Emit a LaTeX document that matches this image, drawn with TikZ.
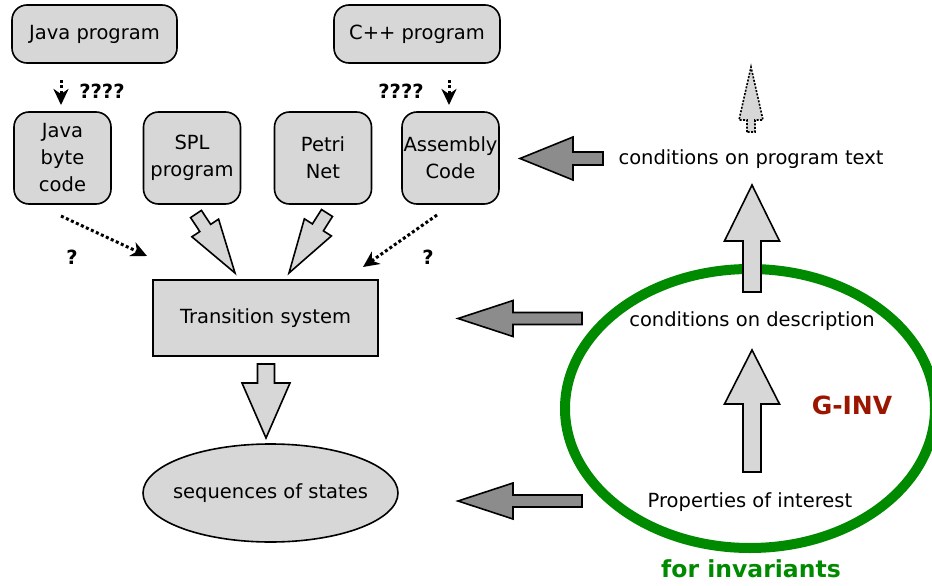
\documentclass[tikz,border=0pt]{standalone}
\usepackage{fontspec}
\setmainfont{DejaVu Sans}
\usetikzlibrary{calc,arrows.meta,shapes.geometric}

\definecolor{boxGray}{RGB}{215,215,215}
\definecolor{darkGray}{RGB}{140,140,140}
\definecolor{ringGreen}{RGB}{0,138,0}
\definecolor{invRed}{RGB}{155,22,0}

% fat arrow: style, tail, tip, half shaft, half head, head length
\newcommand{\fatArrow}[6]{%
	\coordinate (fatHead) at ($(#3)!#6!(#2)$);
	\draw[#1] ($(#2)!#4!90:(#3)$) -- ($(fatHead)!#4!90:(#3)$) -- ($(fatHead)!#5!90:(#3)$) -- (#3)
		-- ($(fatHead)!#5!-90:(#3)$) -- ($(fatHead)!#4!-90:(#3)$) -- ($(#2)!#4!-90:(#3)$) -- cycle;}

\tikzset{
	every node/.style={font=\fontsize{19.5}{27}\selectfont},
	progbox/.style={draw, fill=boxGray, line width=1.6pt, rounded corners=15pt, align=center, inner sep=1pt},
	lightArrow/.style={draw, fill=boxGray, line width=1.6pt, line join=miter},
	darkArrow/.style={draw, fill=darkGray, line width=1.6pt, line join=miter},
	dotArrow/.style={line width=3pt, dash pattern=on 3pt off 2.5pt, -{Stealth[length=16pt,width=15pt,inset=5pt]}},
	qmark/.style={font=\fontsize{19.5}{27}\selectfont\bfseries}
}

\begin{document}
\begin{tikzpicture}[x=1pt, y=-1pt]
		% Define the size of the picture
		\useasboundingbox (0,0) rectangle (932,586);
		
		% Source programs on top
		\node[progbox, minimum width=165pt, minimum height=58pt] (javaProg) at (94.5,34) {Java program};
		\node[progbox, minimum width=166pt, minimum height=58pt] (cppProg) at (417,34) {C++ program};
		
		% Second row of boxes
		\begin{scope}[every node/.append style={progbox, minimum width=97pt, minimum height=92pt}]
			\node (byteCode) at (62.5,158) {Java\\byte\\code};
			\node (splProg) at (192,158) {SPL\\program};
			\node (petriNet) at (323,158) {Petri\\Net};
			\node (asmCode) at (450.5,158) {Assembly\\Code};
		\end{scope}
		
		% Transition system and its runs
		\node[draw, fill=boxGray, line width=1.6pt, minimum width=225pt, minimum height=76pt] (transSys) at (265.5,318) {Transition system};
		\node[ellipse, draw, fill=boxGray, line width=1.6pt, minimum width=255pt, minimum height=98pt, inner xsep=-8pt, inner ysep=0pt] (stateSeq) at (270.5,493) {sequences of states};
		
		% Right side texts
		\node (progCond) at (751,159) {conditions on program text};
		\node (descCond) at (752,321) {conditions on description};
		\node (propInt) at (750,502) {Properties of interest};
		
		% Green ring for invariants
		\draw[ringGreen, line width=10pt] (750,408.5) ellipse (185pt and 139.5pt);
		\node[text=invRed, font=\fontsize{25}{30}\selectfont\bfseries] (gInv) at (852,405) {G-INV};
		\node[text=ringGreen, font=\fontsize{23.5}{28}\selectfont\bfseries] (forInv) at (751,569) {for invariants};
		
		% Dotted translations
		\begin{scope}
			\coordinate (javaOut) at (61,80);
			\coordinate (byteIn) at (61,105);
			\coordinate (cppOut) at (449,80);
			\coordinate (asmIn) at (449,105);
			\coordinate (byteOut) at (61,216);
			\coordinate (transLeft) at (147,256);
			\coordinate (asmOut) at (437,215);
			\coordinate (transRight) at (363,267);
			
			\draw[dotArrow] (javaOut) -- (byteIn);
			\draw[dotArrow] (cppOut) -- (asmIn);
			\draw[dotArrow] (byteOut) -- (transLeft);
			\draw[dotArrow] (asmOut) -- (transRight);
			
			\node[qmark] (javaQ) at (102,91) {????};
			\node[qmark] (cppQ) at (401,91) {????};
			\node[qmark] (byteQ) at (72,257) {?};
			\node[qmark] (asmQ) at (428,257) {?};
		\end{scope}
		
		% Fat arrows into and out of the transition system
		\begin{scope}
			\coordinate (splTail) at (196,214);
			\coordinate (splTip) at (235,273);
			\coordinate (petriTail) at (327,213);
			\coordinate (petriTip) at (289,273);
			\coordinate (transTail) at (266,364);
			\coordinate (transTip) at (266,438);
			
			\fatArrow{lightArrow}{splTail}{splTip}{6.5pt}{16pt}{54pt}
			\fatArrow{lightArrow}{petriTail}{petriTip}{6.5pt}{16pt}{54pt}
			\fatArrow{lightArrow}{transTail}{transTip}{8.5pt}{24pt}{55pt}
		\end{scope}
		
		% Dark arrows pointing left
		\begin{scope}
			\coordinate (progTail) at (603,158.5);
			\coordinate (progTip) at (520,158.5);
			\coordinate (descTail) at (582,318.5);
			\coordinate (descTip) at (458,318.5);
			\coordinate (propTail) at (582,501);
			\coordinate (propTip) at (458,501);
			
			\fatArrow{darkArrow}{progTail}{progTip}{6.5pt}{21.5pt}{53pt}
			\fatArrow{darkArrow}{descTail}{descTip}{6pt}{18pt}{55pt}
			\fatArrow{darkArrow}{propTail}{propTip}{6pt}{18pt}{55pt}
		\end{scope}
		
		% Upward arrows on the right
		\begin{scope}
			\coordinate (propUpTail) at (752,472);
			\coordinate (propUpTip) at (752,350);
			\coordinate (descUpTail) at (752,292);
			\coordinate (descUpTip) at (752,185);
			\coordinate (progUpTail) at (751,132);
			\coordinate (progUpTip) at (751,67);
			
			\fatArrow{lightArrow}{propUpTail}{propUpTip}{9pt}{27.5pt}{54pt}
			\fatArrow{lightArrow}{descUpTail}{descUpTip}{9pt}{27.5pt}{56pt}
			\fatArrow{lightArrow, dash pattern=on 2pt off 1.5pt}{progUpTail}{progUpTip}{4pt}{12pt}{53pt}
		\end{scope}
	\end{tikzpicture}
\end{document}
